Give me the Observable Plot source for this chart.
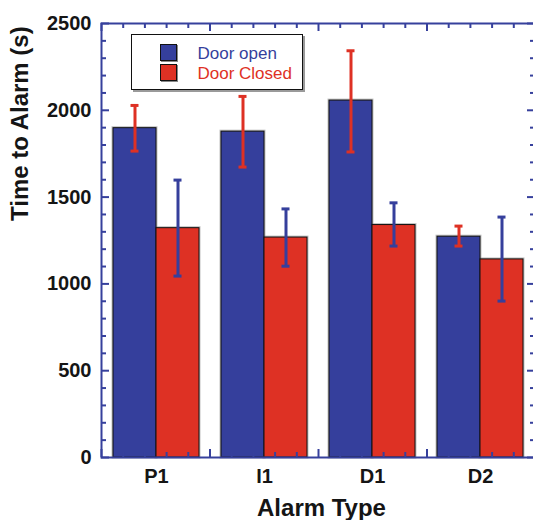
<!DOCTYPE html>
<html>
<head>
<meta charset="utf-8">
<script src="https://cdn.jsdelivr.net/npm/d3@7"></script>
<script src="https://cdn.jsdelivr.net/npm/@observablehq/plot@0.6"></script>
<style>
  html, body { margin: 0; padding: 0; background: #fff; overflow: hidden; }
  #wrap { position: relative; width: 533px; height: 520px; overflow: hidden; }
  #wrap svg { position: absolute; left: 0; top: 0; max-width: none !important; }
  #legend { position: absolute; left: 131px; top: 34px; width: 170px; height: 54px;
            border: 1px solid #111; background: #fff; box-shadow: 2px 2px 0 #9a9a9a; }
  .sw { position: absolute; width: 15px; height: 15px; border: 1px solid #111; box-shadow: 1px 1px 0 #888; }
  .lt { position: absolute; font-family: "Liberation Sans", Arial, sans-serif; font-size: 17px; line-height: 17px; white-space: nowrap; }
</style>
</head>
<body>
<div id="wrap"></div>
<script>
// ---- data ----
const categories = ["P1", "I1", "D1", "D2"];
const series = ["Door open", "Door Closed"];
const openValues   = [1897, 1877, 2056, 1272];
const openErrLow   = [1765, 1673, 1760, 1218];
const openErrHigh  = [2028, 2080, 2343, 1333];
const closedValues  = [1321, 1267, 1339, 1141];
const closedErrLow  = [1045, 1102, 1218, 901];
const closedErrHigh = [1598, 1432, 1467, 1385];
const yTicks = [0, 500, 1000, 1500, 2000, 2500];

// ---- styles ----
const barColors = ["#353f9c", "#de3124"];
const errColors = ["#de3124", "#353f9c"];
const axisColor = "#36409c";

const values = [openValues, closedValues];
const lows = [openErrLow, closedErrLow];
const highs = [openErrHigh, closedErrHigh];
const rows = categories.flatMap((c, i) => series.map((s, j) => ({
  cat: c, series: s, value: values[j][i], lo: lows[j][i], hi: highs[j][i]
})));

const W = 537, H = 520;
const mL = 101, mR = 2, mT = 23, mB = 63;
const frameW = W - mL - mR, frameH = H - mT - mB;
const font = '"Liberation Sans", Arial, Helvetica, sans-serif';

const main = Plot.plot({
  width: W, height: H,
  marginLeft: mL, marginRight: mR, marginTop: mT, marginBottom: mB,
  style: { fontFamily: font, fontSize: "20px", fontWeight: "bold", color: "#151515", background: "transparent", maxWidth: "none" },
  fx: { domain: categories, paddingInner: 0, paddingOuter: 0, label: null, axis: "bottom", tickSize: 0, tickPadding: 11 },
  x: { domain: series, paddingInner: 0, paddingOuter: 0.25, axis: null },
  y: { domain: [0, 2500], axis: null },
  color: { domain: series, range: barColors },
  marks: [
    Plot.barY(rows, { fx: "cat", x: "series", y: "value", fill: "none", stroke: "#999", strokeOpacity: 0.6, strokeWidth: 3 }),
    Plot.barY(rows, { fx: "cat", x: "series", y: "value", fill: "series", stroke: "#111", strokeWidth: 1 }),
    ...series.map((s, j) => {
      const d = rows.filter(r => r.series === s);
      return [
        Plot.ruleX(d, { fx: "cat", x: "series", y1: "lo", y2: "hi", stroke: errColors[j], strokeWidth: 3 }),
        Plot.tickY(d, { fx: "cat", x: "series", y: "lo", stroke: errColors[j], strokeWidth: 3, insetLeft: 17.5, insetRight: 17.5 }),
        Plot.tickY(d, { fx: "cat", x: "series", y: "hi", stroke: errColors[j], strokeWidth: 3, insetLeft: 17.5, insetRight: 17.5 })
      ];
    })
  ]
});

// overlay: frame, ticks, titles
const xMinor = d3.range(0, 21).map(i => i / 5).filter(v => !Number.isInteger(v));
const xMajor = d3.range(0, categories.length + 1);
const yMinor = d3.range(0, 2501, 100).filter(v => v % 500 !== 0);
const len = (n) => frameW - n, lenV = (n) => frameH - n;

const overlay = Plot.plot({
  width: W, height: H,
  marginLeft: mL, marginRight: mR, marginTop: mT, marginBottom: mB,
  style: { fontFamily: font, fontSize: "20px", fontWeight: "bold", color: "#151515", background: "transparent", maxWidth: "none" },
  x: { domain: [0, categories.length], axis: null },
  y: { domain: [0, 2500], axis: null },
  marks: [
    Plot.axisY({ anchor: "left", ticks: yTicks, tickSize: 0, tickPadding: 10, tickFormat: d => String(d), label: null }),
    // y ticks left/right
    Plot.ruleY(yTicks, { stroke: axisColor, strokeWidth: 2, insetRight: len(8) }),
    Plot.ruleY(yMinor, { stroke: axisColor, strokeWidth: 2, insetRight: len(5) }),
    Plot.ruleY(yTicks, { stroke: axisColor, strokeWidth: 2, insetLeft: len(8) }),
    Plot.ruleY(yMinor, { stroke: axisColor, strokeWidth: 2, insetLeft: len(5) }),
    // x ticks bottom/top
    Plot.ruleX(xMajor, { stroke: axisColor, strokeWidth: 2, insetTop: lenV(8) }),
    Plot.ruleX(xMinor, { stroke: axisColor, strokeWidth: 2, insetTop: lenV(5) }),
    Plot.ruleX(xMajor, { stroke: axisColor, strokeWidth: 2, insetBottom: lenV(8) }),
    Plot.ruleX(xMinor, { stroke: axisColor, strokeWidth: 2, insetBottom: lenV(5) }),
    // frame
    Plot.frame({ stroke: axisColor, strokeWidth: 2 }),
    // titles
    Plot.text(["Alarm Type"], { frameAnchor: "bottom", dy: 50.5, dx: 3, lineAnchor: "middle", fontSize: 24, fill: "#151515" }),
    Plot.text(["Time to Alarm (s)"], { frameAnchor: "left", dx: -80.7, dy: -19.5, rotate: -90, lineAnchor: "middle", fontSize: 24, fill: "#151515" })
  ]
});
overlay.style.pointerEvents = "none";

const wrap = document.getElementById("wrap");
wrap.appendChild(main);
wrap.appendChild(overlay);

// legend
const legend = document.createElement("div");
legend.id = "legend";
series.forEach((s, j) => {
  const sw = document.createElement("div");
  sw.className = "sw";
  sw.style.left = "28px";
  sw.style.top = (9 + j * 20.3) + "px";
  sw.style.background = barColors[j];
  legend.appendChild(sw);
  const t = document.createElement("div");
  t.className = "lt";
  t.style.left = "65.5px";
  t.style.top = (9.6 + j * 20) + "px";
  t.style.color = barColors[j];
  t.textContent = s;
  legend.appendChild(t);
});
wrap.appendChild(legend);
</script>
</body>
</html>
